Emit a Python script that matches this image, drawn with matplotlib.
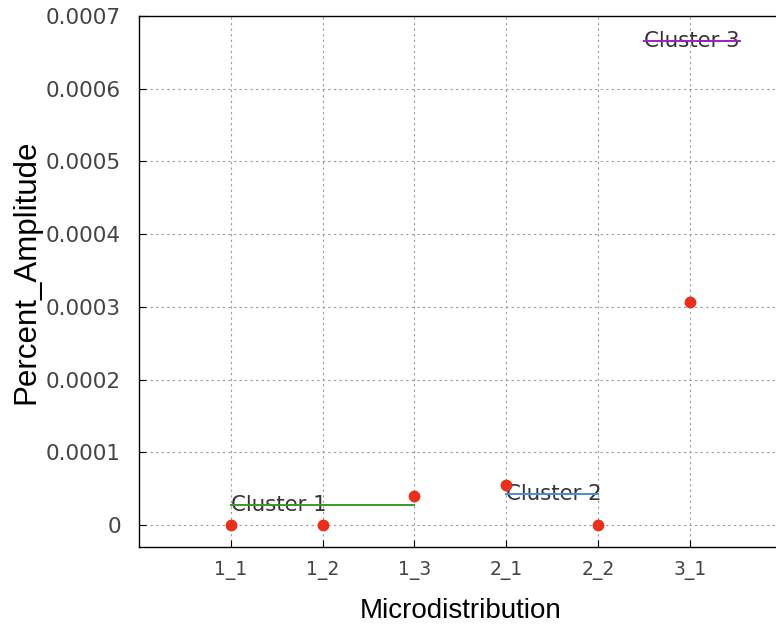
import matplotlib
matplotlib.use("Agg")
import matplotlib.pyplot as plt

categories = ["1_1", "1_2", "1_3", "2_1", "2_2", "3_1"]
values = [0.0, 0.0, 0.00004, 0.000055, 0.0, 0.000307]

cluster_names = ["Cluster 1", "Cluster 2", "Cluster 3"]
cluster_start = [1.0, 4.0, 5.5]
cluster_end = [3.0, 5.0, 6.55]
cluster_level = [0.0000275, 0.0000425, 0.000665]
cluster_colors = ["#3a9a2a", "#4a8ed0", "#a01ec8"]

yticks = [0, 0.0001, 0.0002, 0.0003, 0.0004, 0.0005, 0.0006, 0.0007]
ytick_labels = ["0", "0.0001", "0.0002", "0.0003", "0.0004", "0.0005", "0.0006", "0.0007"]

fig = plt.figure(figsize=(7.76, 6.28), dpi=100)
ax = fig.add_axes([139/776, 1-547/628, (781.6-139)/776, (547-16)/628])

x = list(range(1, len(categories) + 1))

ax.grid(True, linestyle=(0, (2, 3)), color="#999999", linewidth=0.8)
ax.set_axisbelow(True)

for name, s, e, lvl, c in zip(cluster_names, cluster_start, cluster_end, cluster_level, cluster_colors):
    ax.plot([s, e], [lvl, lvl], color=c, linewidth=1.4, zorder=3)
    ax.text(s, lvl, name, ha="left", va="center", fontsize=15.3,
            family="DejaVu Sans", color="#333333", zorder=2)

ax.plot(x, values, linestyle="none", marker="o", markersize=7.5,
        color="#e8301c", zorder=4)

ax.set_xlim(0, 7)
ax.set_ylim(-0.0000303, 0.0007)
ax.set_xticks(x)
ax.set_xticklabels(categories, fontsize=13.5, color="#444444")
ax.set_yticks(yticks)
ax.set_yticklabels(ytick_labels, fontsize=15.5, color="#444444")
ax.tick_params(axis="both", direction="in", length=5, color="black")
ax.tick_params(axis="x", pad=10)
ax.tick_params(axis="y", pad=13)

ax.spines["right"].set_visible(False)
for sp in ["left", "bottom", "top"]:
    ax.spines[sp].set_linewidth(1.0)

ax.set_xlabel("Microdistribution", fontsize=20, family="Liberation Sans", labelpad=13)
ax.set_ylabel("Percent_Amplitude", fontsize=22.5, family="Liberation Sans")
ax.yaxis.set_label_coords(-0.152, 0.518)

fig.savefig("out.png", dpi=100)
